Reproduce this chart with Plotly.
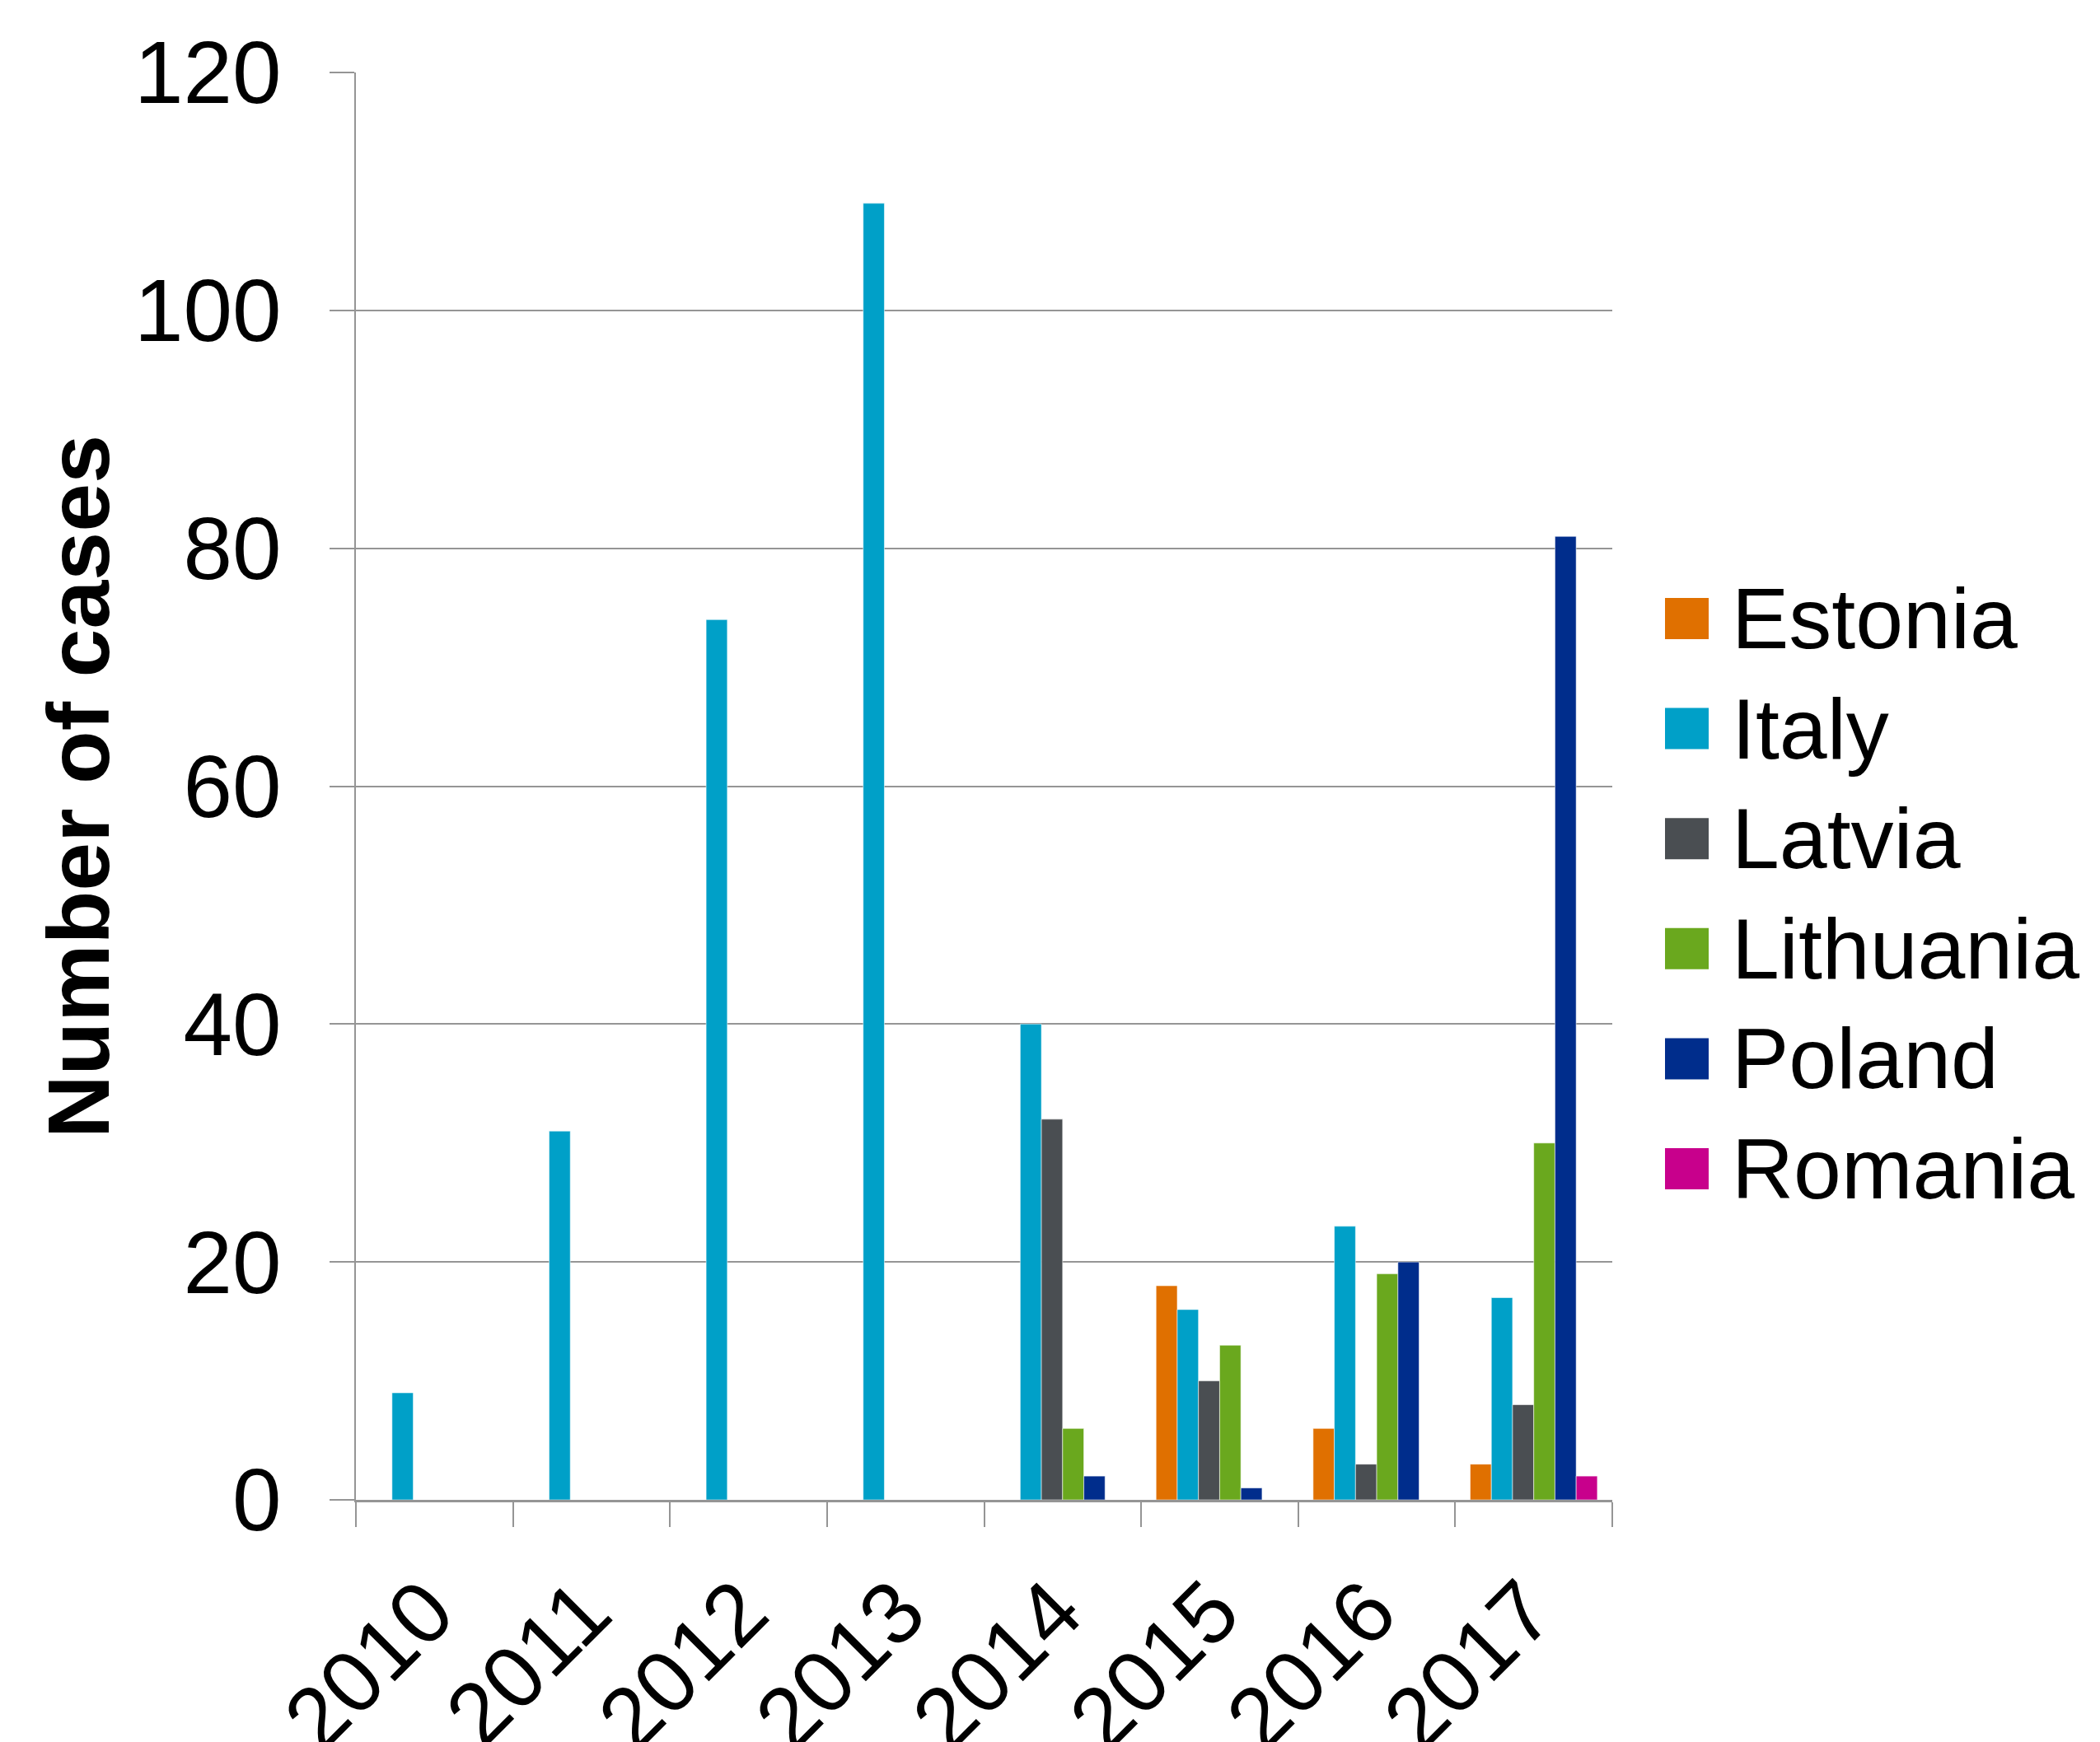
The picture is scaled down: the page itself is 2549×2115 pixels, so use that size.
import plotly.graph_objects as go

# Reported cases per country and year
years = ["2010", "2011", "2012", "2013", "2014", "2015", "2016", "2017"]
estonia = [None, None, None, None, None, 18, 6, 3]
italy = [9, 31, 74, 109, 40, 16, 23, 17]
latvia = [None, None, None, None, 32, 10, 3, 8]
lithuania = [None, None, None, None, 6, 13, 19, 30]
poland = [None, None, None, None, 2, 1, 20, 81]
romania = [None, None, None, None, None, None, None, 2]

countries = ["Estonia", "Italy", "Latvia", "Lithuania", "Poland", "Romania"]
series = [estonia, italy, latvia, lithuania, poland, romania]
colors = ["#E07000", "#00A0C8", "#4A4E52", "#6AA81E", "#002D8C", "#C8008C"]

W, H = 2549, 2115
L, R, T, B = 432, 592, 88, 294
FONT = "Liberation Sans, Arial, sans-serif"
GRID = "#959595"

fig = go.Figure()
for name, vals, col in zip(countries, series, colors):
    fig.add_trace(go.Bar(
        x=years, y=vals, name=name,
        marker=dict(color=col, line=dict(color="rgba(255,255,255,0.55)", width=1)),
        showlegend=False,
    ))


def px_to_paper(px, py):
    return (px - L) / (W - L - R), (H - B - py) / (H - T - B)


# Legend drawn as large swatches with labels to the right of the plot
shapes, annotations = [], []
first_cy, step = 751, 133.6
for i, (name, col) in enumerate(zip(countries, colors)):
    cy = first_cy + i * step
    x0, y0 = px_to_paper(2021, cy + 25)
    x1, y1 = px_to_paper(2074, cy - 25)
    shapes.append(dict(type="rect", xref="paper", yref="paper",
                       x0=x0, x1=x1, y0=y0, y1=y1,
                       fillcolor=col, line=dict(width=0)))
    tx, ty = px_to_paper(2100, cy)
    annotations.append(dict(text=name, xref="paper", yref="paper",
                            x=tx, y=ty, xanchor="left", yanchor="middle",
                            showarrow=False,
                            font=dict(family=FONT, size=104, color="black")))

# Vertical axis title
ttx, tty = px_to_paper(95, 955)
annotations.append(dict(text="<b>Number of cases</b>", xref="paper", yref="paper",
                        x=ttx, y=tty, xanchor="center", yanchor="middle",
                        textangle=-90, showarrow=False,
                        font=dict(family=FONT, size=106, color="black")))

fig.update_layout(
    width=W, height=H,
    margin=dict(l=L, r=R, t=T, b=B, pad=0, autoexpand=False),
    paper_bgcolor="white", plot_bgcolor="white",
    barmode="group", bargap=0.19, bargroupgap=0,
    font=dict(family=FONT, size=105, color="black"),
    shapes=shapes, annotations=annotations,
)
fig.update_xaxes(
    type="category", tickangle=-45, automargin=False,
    showline=True, linecolor=GRID, linewidth=3,
    ticks="outside", tickson="boundaries", ticklen=30, tickwidth=2, tickcolor=GRID,
    showgrid=False, ticklabelstandoff=28, ticklabelshift=-8,
    tickfont=dict(family=FONT, size=106, color="black"),
)
fig.update_yaxes(
    range=[0, 120], dtick=20, automargin=False,
    showline=True, linecolor=GRID, linewidth=2,
    ticks="outside", ticklen=30, tickwidth=2, tickcolor=GRID,
    showgrid=True, gridcolor=GRID, gridwidth=2, zeroline=False,
    ticklabelstandoff=37,
    tickfont=dict(family=FONT, size=107, color="black"),
)

fig.write_html("out.html")
